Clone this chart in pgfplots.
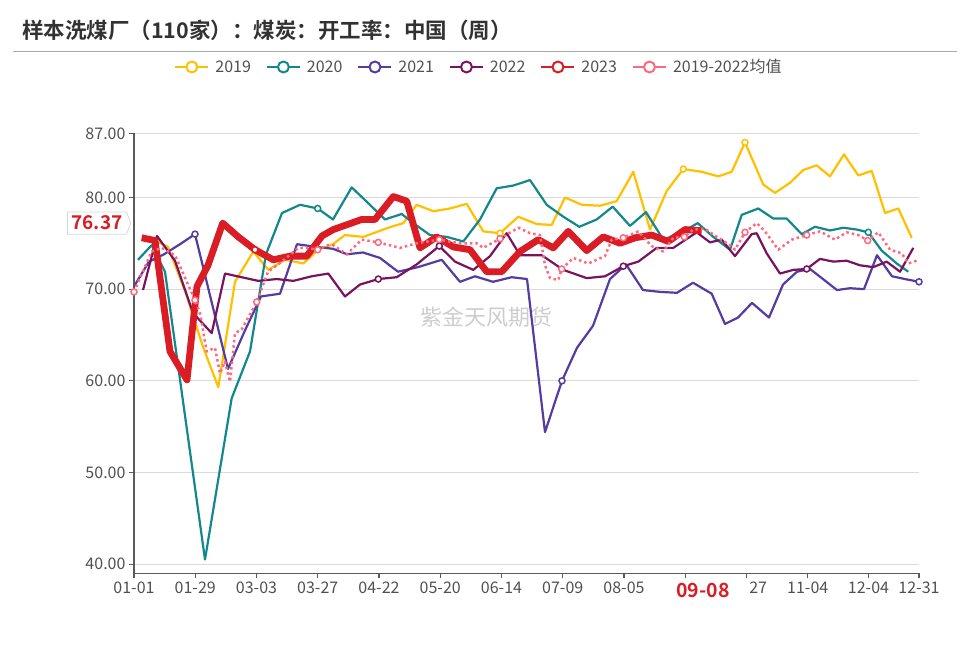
\documentclass[border=0pt]{standalone}
\usepackage{pgfplots}
\pgfplotsset{compat=1.18}
\usepackage{fontspec}
\setmainfont{Noto Sans CJK SC}[BoldFont={Noto Sans CJK SC Bold}]
\usetikzlibrary{shapes.symbols}
\definecolor{c19}{RGB}{255,192,0}
\definecolor{c20}{RGB}{18,136,140}
\definecolor{c21}{RGB}{85,60,160}
\definecolor{c22}{RGB}{120,20,95}
\definecolor{c23}{RGB}{218,28,36}
\definecolor{cavg}{RGB}{255,105,125}
\definecolor{titlec}{RGB}{50,50,50}
\definecolor{sepc}{RGB}{170,170,170}
\definecolor{axc}{RGB}{90,90,90}
\definecolor{gridc}{RGB}{218,218,218}
\definecolor{tickc}{RGB}{80,80,80}
\definecolor{wmc}{RGB}{205,205,205}
\definecolor{tagb}{RGB}{215,215,215}
\begin{document}
\begin{tikzpicture}[x=1pt,y=1pt]
\useasboundingbox (0,0) rectangle (970,653);
\node[anchor=west, inner sep=0pt, text=titlec, font=\fontsize{21.5}{24}\selectfont\bfseries] at (22,623) {样本洗煤厂（110家）：煤炭：开工率：中国（周）};
\draw[sepc, line width=1pt] (13,601) -- (957,601);
\begin{axis}[
  at={(134pt,79.7pt)}, anchor=south west,
  scale only axis, width=785pt, height=440pt,
  xmin=134, xmax=919, ymin=39, ymax=87,
  axis lines*=left,
  axis line style={draw=axc, line width=1.2pt},
  tick style={draw=axc, line width=1.2pt},
  major tick length=5pt, tick align=outside,
  ymajorgrids, grid style={draw=gridc, line width=1pt},
  xtick={134,195.25,256.5,317.75,379,440.25,501.5,562.75,624,685.25,746.5,807.75,868.5,919},
  xticklabels={01-01,01-29,03-03,03-27,04-22,05-20,06-14,07-09,08-05,{},\phantom{10-}27,11-04,12-04,12-31},
  ytick={40,50,60,70,80,87},
  yticklabels={40.00,50.00,60.00,70.00,80.00,87.00},
  ticklabel style={font=\fontsize{16}{18}\selectfont, text=tickc},
  legend columns=6,
  legend style={at={(0.4395,1.1507)}, anchor=center, draw=none, fill=none,
    font=\fontsize{16}{18}\selectfont, text=tickc,
    /tikz/every odd column/.append style={column sep=4pt},
    /tikz/every even column/.append style={column sep=13pt}},
  legend image code/.code={\draw[solid, line width=2pt] (0pt,0pt) -- (33pt,0pt);
    \draw[solid, line width=2pt, fill=white] (16.5pt,0pt) circle (5.5pt);},
]
\node[text=wmc, font=\fontsize{22}{24}\selectfont] at (axis cs:486,66.9) {紫金天风期货};
% 2019
\addplot[c19, line width=2.2pt, line join=round] coordinates {
(157,75.2)(168,74.6)(186,69.5)(203,63.7)(218.3,59.3)(235,70.8)(253.3,74.1)(268.3,72.1)(285,73.2)(303.3,72.8)(318.3,74.3)(333,74.9)(345,75.9)(363.3,75.7)(376,76.2)(388.3,76.7)(403.3,77.2)(416.7,79.2)(433.3,78.5)(450,78.8)(466.7,79.3)(483.3,76.3)(500,76.1)(518.3,77.9)(536.7,77.1)(551.7,77.0)(565,80.0)(581.7,79.2)(600,79.1)(616.7,79.6)(633.3,82.8)(650,76.5)(666.7,80.7)(683.3,83.1)(701.7,82.8)(718.3,82.3)(731.7,82.8)(745,86.0)(763.3,81.4)(775,80.5)(790,81.6)(803.3,83.0)(816.7,83.5)(830,82.3)(844,84.7)(858.3,82.4)(871.7,82.9)(885,78.3)(898.3,78.8)(911.7,75.6)
};
\addlegendentry{2019}
% 2020
\addplot[c20, line width=2.2pt, line join=round] coordinates {
(138,73.2)(151.7,74.8)(165,71.9)(205,40.5)(231.7,58.1)(250,63.2)(266,73.8)(282,78.3)(300,79.2)(317.7,78.8)(333,77.6)(351.7,81.1)(368,79.4)(385,77.6)(401.7,78.2)(413.3,77.2)(430,75.9)(446.7,75.7)(463.3,75.2)(480,77.6)(496.7,81.0)(513.3,81.3)(530,81.9)(546.7,79.2)(563.3,77.9)(579.3,76.8)(596.7,77.6)(612.7,79.0)(630,76.9)(646,78.4)(663.3,75.4)(680,76.1)(697.7,77.2)(713.3,75.7)(730,74.3)(741.7,78.1)(758.3,78.8)(773.3,77.7)(786.7,77.7)(801.7,76.0)(815,76.8)(830,76.4)(843.3,76.7)(856.7,76.5)(868.3,76.2)(881.7,74.2)(896.7,72.8)(908.3,71.9)
};
\addlegendentry{2020}
% 2021
\addplot[c21, line width=2.2pt, line join=round] coordinates {
(134,70.3)(149,73.0)(164,73.8)(180,74.9)(195,76.0)(228,61.3)(245,65.5)(261,69.2)(280,69.5)(297,74.9)(317,74.6)(333,74.4)(347,73.8)(363,74.0)(380,73.4)(398,71.9)(418,72.4)(441.7,73.2)(460,70.8)(475,71.4)(493,70.8)(511.7,71.3)(527,71.1)(545,54.4)(562,60.0)(577,63.6)(593,66.0)(610,71.1)(626,72.7)(643,69.9)(660,69.7)(677,69.6)(693,70.7)(711.7,69.5)(725,66.2)(738,66.9)(752,68.5)(769,66.9)(783,70.5)(797,71.9)(810,72.2)(823,71.1)(837,69.9)(850,70.1)(864,70.0)(877,73.7)(892,71.4)(905,71.1)(919,70.8)
};
\addlegendentry{2021}
% 2022
\addplot[c22, line width=2.2pt, line join=round] coordinates {
(143,69.9)(157,75.8)(175,73.1)(193,67.4)(211.7,65.2)(225,71.7)(258.3,70.9)(276.7,71.1)(293.3,70.9)(311.7,71.4)(328.3,71.7)(345,69.2)(360,70.5)(378.3,71.1)(396.7,71.3)(416.7,72.7)(439.3,74.7)(455,73.0)(473.3,72.1)(490,73.6)(506.7,76.1)(520,73.7)(541.7,73.7)(563.3,72.1)(586.7,71.2)(605,71.4)(623.3,72.5)(638.3,73.0)(656.7,74.5)(673.3,74.5)(696.7,76.2)(710,75.1)(721.7,75.4)(735,73.6)(751.7,76.0)(756.7,76.1)(766.7,73.9)(780,71.7)(793.3,72.1)(806.7,72.2)(820,73.3)(833.3,73.0)(846.7,73.1)(860,72.6)(873.3,72.4)(886.7,73.0)(900,71.9)(913.3,74.5)
};
\addlegendentry{2022}
% 2023
\addplot[c23, line width=6.8pt, line join=round] coordinates {
(141.7,75.6)(155,75.3)(170,63.2)(187,60.1)(197,70.3)(208,72.6)(222.7,77.2)(238.3,75.7)(255,74.3)(273.3,73.2)(290,73.6)(306.7,73.6)(322,75.8)(333.3,76.5)(361.7,77.6)(375,77.6)(393.3,80.1)(406.7,79.6)(420,74.5)(436.7,75.7)(453.3,74.6)(470,74.3)(486.7,71.9)(501.7,71.9)(520,74.1)(538.3,75.4)(553.3,74.5)(568.3,76.3)(586.7,74.2)(603.3,75.7)(620,75.0)(635,75.6)(651.7,75.9)(668.3,75.2)(685,76.5)(701.7,76.37)
};
\addlegendentry{2023}
% mean
\addplot[cavg, line width=2.5pt, dash pattern=on 2.5pt off 3pt, line join=round] coordinates {
(134,69.7)(140,71.2)(151.7,74.1)(161.7,74.5)(175,73.7)(195,68.8)(200,67.4)(206.7,63.2)(215,63.6)(220,60.8)(225,62.1)(230,59.9)(235,65.2)(241.7,65.6)(256.7,68.6)(268,71.9)(281.7,73.0)(298.3,74.5)(306.7,74.5)(317.7,74.3)(328.3,74.8)(333.3,74.8)(346.7,73.8)(361.7,75.4)(378.3,75.1)(400,74.5)(416.7,75.0)(439.3,75.4)(460,75.0)(476.7,75.0)(483.3,74.5)(500,75.5)(518.3,76.7)(530,76.1)(540,75.9)(545,72.6)(550,71.2)(558.3,71.0)(561.7,72.2)(573.3,73.4)(588.3,72.8)(605,73.6)(611.7,75.4)(623.3,75.6)(638.3,76.3)(651.7,74.7)(663.3,74.1)(673.3,75.6)(684.3,75.7)(693.3,76.5)(705,76.6)(716.7,75.7)(730,74.8)(735,74.3)(745,76.2)(756.7,77.2)(765,76.3)(778.3,74.3)(791.7,75.4)(806.7,75.9)(820,76.3)(835,75.4)(846.7,76.2)(858.3,75.9)(867.7,75.3)(878.3,76.2)(890,74.3)(901.7,73.9)(908.3,72.8)(919.3,73.2)
};
\addlegendentry{2019-2022均值}
% markers
\addplot[forget plot, only marks, mark=*, mark size=3pt, mark options={solid, fill=white, draw=c19, line width=1.5pt}] coordinates {(500,76.1)(683.3,83.1)(745,86.0)};
\addplot[forget plot, only marks, mark=*, mark size=3pt, mark options={solid, fill=white, draw=c20, line width=1.5pt}] coordinates {(317.7,78.8)(868.3,76.2)};
\addplot[forget plot, only marks, mark=*, mark size=3pt, mark options={solid, fill=white, draw=c21, line width=1.5pt}] coordinates {(195,76.0)(562,60.0)(919,70.8)};
\addplot[forget plot, only marks, mark=*, mark size=3pt, mark options={solid, fill=white, draw=c22, line width=1.5pt}] coordinates {(378.3,71.1)(439.3,74.7)(623.3,72.5)(806.7,72.2)};
\addplot[forget plot, only marks, mark=*, mark size=3pt, mark options={solid, fill=white, draw=c23, line width=1.5pt}] coordinates {(255,74.3)};
\addplot[forget plot, only marks, mark=*, mark size=3pt, mark options={solid, fill=white, draw=cavg, line width=1.5pt}] coordinates {(134,69.7)(195,68.8)(256.7,68.6)(317.7,74.3)(378.3,75.1)(439.3,75.4)(500,75.5)(561.7,72.2)(623.3,75.6)(684.3,75.7)(745,76.2)(806.7,75.9)(867.7,75.3)(919.3,73.2)};
\coordinate (tag) at (axis cs:134,77.2);
\coordinate (hl) at (axis cs:703,39);
\end{axis}
\node[shape=signal, signal to=east, signal pointer angle=140, draw=tagb, fill=white, line width=0.8pt, inner xsep=4pt, inner ysep=4pt, anchor=east, text=c23, font=\fontsize{19}{21}\selectfont\bfseries] at ([xshift=-3pt]tag) {76.37};
\node[inner xsep=3pt, inner ysep=3pt, anchor=north, text=c23, font=\fontsize{19.5}{21}\selectfont\bfseries] at ([yshift=-7pt]hl) {09-08};
\end{tikzpicture}
\end{document}
